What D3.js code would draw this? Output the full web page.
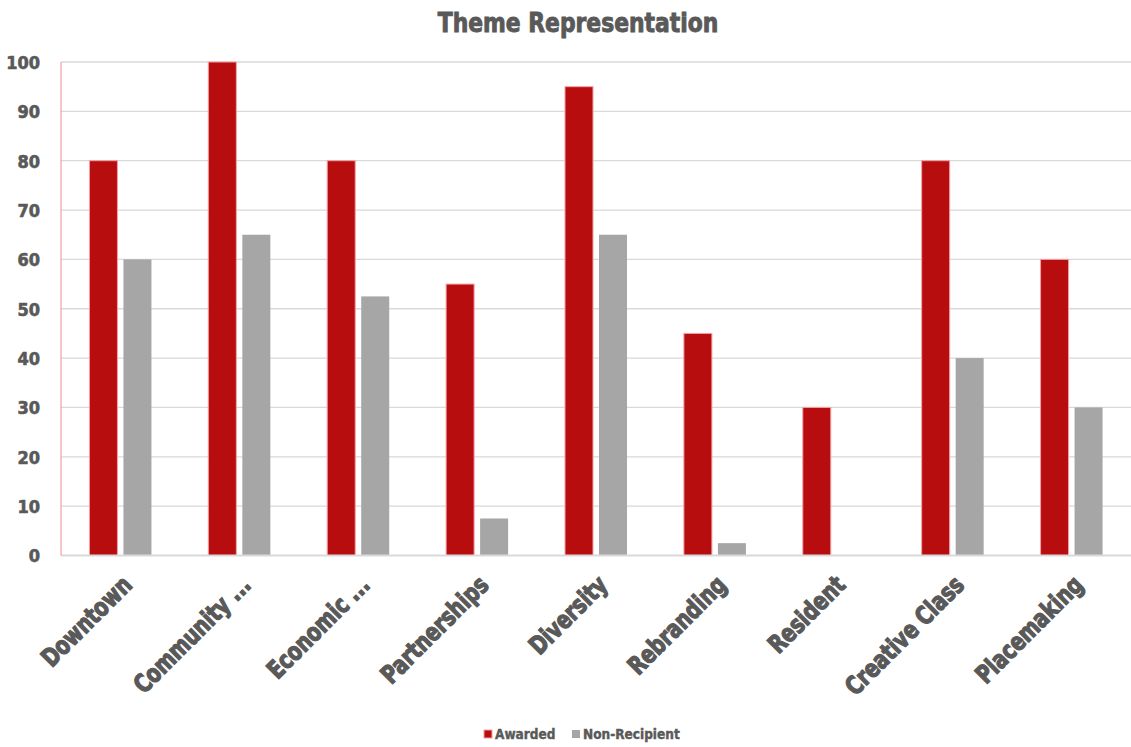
<!DOCTYPE html>
<html>
<head>
<meta charset="utf-8">
<script src="https://cdn.jsdelivr.net/npm/d3@7"></script>
<style>
  html, body { margin: 0; padding: 0; background: #fff; }
  svg text { font-family: "DejaVu Sans Condensed", "DejaVu Sans", sans-serif; font-stretch: condensed; font-weight: bold; fill: #595959; }
</style>
</head>
<body>
<svg id="chart" width="1131" height="747"></svg>
<script>
const categories = ["Downtown", "Community ...", "Economic ...", "Partnerships", "Diversity", "Rebranding", "Resident", "Creative Class", "Placemaking"];
const awarded = [80, 100, 80, 55, 95, 45, 30, 80, 60];
const nonRecipient = [60, 65, 52.5, 7.5, 65, 2.5, 0, 40, 30];
const seriesNames = ["Awarded", "Non-Recipient"];
const yTicks = [0, 10, 20, 30, 40, 50, 60, 70, 80, 90, 100];

const colors = { awarded: "#b80d0f", awardedEdge: "#f4a0a4", non: "#a6a6a6", text: "#595959" };

const svg = d3.select("#chart");
const margin = { left: 61, right: 0, top: 62, bottom: 192 };
const W = 1131, H = 747;

const x = d3.scaleBand().domain(categories).range([margin.left, W - margin.right]);
const bw = x.bandwidth();
// two bars of equal width with a small gap, centred in each category slot
const x1 = d3.scaleBand().domain(seriesNames).range([bw / 2 - 31, bw / 2 + 31]).paddingInner(6 / 34);
const y = d3.scaleLinear().domain([0, 100]).range([H - margin.bottom + 0.5, margin.top]);

// condensed, heavy text
function heavy(sel, size, sw) {
  sel.style("font-size", size + "px").style("fill", colors.text)
    .style("stroke", colors.text).style("stroke-width", sw)
    .style("font-family", "'DejaVu Sans Condensed', 'DejaVu Sans', sans-serif")
    .style("font-stretch", "condensed").style("font-weight", "bold");
}

// title
svg.append("text").attr("x", 578).attr("y", 32).attr("text-anchor", "middle")
  .call(heavy, 27, 0.9)
  .attr("transform", "translate(578,0) scale(0.9,1) translate(-578,0)")
  .text("Theme Representation");

// gridlines
svg.append("g").selectAll("line").data(yTicks.slice(1)).join("line")
  .attr("x1", margin.left).attr("x2", W).attr("y1", d => y(d)).attr("y2", d => y(d))
  .attr("stroke", "#d9d9d9").attr("stroke-width", 1.3);

// y axis labels
const yAxis = d3.axisLeft(y).tickValues(yTicks).tickSize(0).tickPadding(21);
const gy = svg.append("g").attr("transform", `translate(${margin.left},0)`).call(yAxis);
gy.select(".domain").remove();
gy.selectAll("text").call(heavy, 18, 0.6).attr("dy", "0.36em");

// bars
const g = svg.append("g");
g.selectAll("rect.aw").data(categories).join("rect").attr("class", "aw")
  .attr("x", c => x(c) + x1("Awarded")).attr("width", x1.bandwidth())
  .attr("y", (c, i) => y(awarded[i])).attr("height", (c, i) => y(0) - y(awarded[i]))
  .attr("fill", colors.awarded).attr("stroke", colors.awardedEdge).attr("stroke-width", 1);
g.selectAll("rect.nr").data(categories).join("rect").attr("class", "nr")
  .attr("x", c => x(c) + x1("Non-Recipient")).attr("width", x1.bandwidth())
  .attr("y", (c, i) => y(nonRecipient[i])).attr("height", (c, i) => y(0) - y(nonRecipient[i]))
  .attr("fill", colors.non);

// axis lines
svg.append("line").attr("x1", margin.left).attr("x2", W).attr("y1", y(0)).attr("y2", y(0))
  .attr("stroke", "#d9d9d9").attr("stroke-width", 2);
svg.append("line").attr("x1", margin.left).attr("x2", margin.left).attr("y1", margin.top).attr("y2", y(0))
  .attr("stroke", "#f4a0a4").attr("stroke-width", 1.2);

// x axis labels, rotated and narrowed along the baseline
const xAxis = d3.axisBottom(x).tickSize(0).tickPadding(0);
const gx = svg.append("g").attr("transform", `translate(0,${y(0)})`).call(xAxis);
gx.select(".domain").remove();
gx.selectAll("text")
  .attr("text-anchor", "end").attr("dy", 0).attr("y", 0)
  .call(heavy, 24, 1.2)
  .attr("transform", "translate(13,31) rotate(-45) scale(0.9,1.05)");

// legend
const legend = svg.append("g");
const legendItems = [
  { name: seriesNames[0], x: 484, fill: colors.awarded, stroke: colors.awardedEdge },
  { name: seriesNames[1], x: 572, fill: colors.non, stroke: "none" }
];
legendItems.forEach(it => {
  legend.append("rect").attr("x", it.x).attr("y", 730).attr("width", 8).attr("height", 8)
    .attr("fill", it.fill).attr("stroke", it.stroke).attr("stroke-width", 1);
  legend.append("text").attr("x", it.x + 11).attr("y", 739)
    .call(heavy, 13.5, 0.4)
    .text(it.name);
});
</script>
</body>
</html>
